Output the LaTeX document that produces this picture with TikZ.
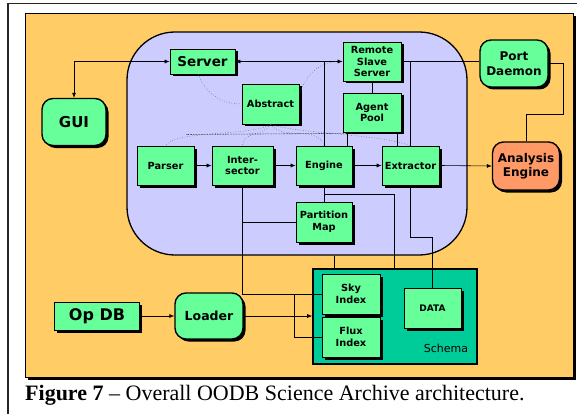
\documentclass[tikz,border=0pt]{standalone}
\usepackage{fontspec}
\setmainfont{Liberation Serif}
\newfontfamily\comic{DejaVu Sans}
\usetikzlibrary{arrows.meta,shadows,calc}
\definecolor{bgorange}{RGB}{255,204,102}
\definecolor{lav}{RGB}{204,204,255}
\definecolor{boxgreen}{RGB}{102,255,153}
\definecolor{anaorange}{RGB}{255,153,102}
\definecolor{schemagreen}{RGB}{0,204,153}
\tikzset{
  shad/.style={drop shadow={shadow xshift=2.5pt,shadow yshift=-2.5pt,opacity=1,fill=black}},
  gbox/.style={draw=black,line width=0.7pt,fill=boxgreen,inner sep=0pt,align=center,
    font=\comic\bfseries\fontsize{9.8}{11.8}\selectfont,shad},
  rbox/.style={draw=black,line width=1.4pt,fill=boxgreen,rounded corners=11pt,inner sep=0pt,
    align=center,font=\comic\bfseries\fontsize{12}{14.5}\selectfont,shad},
  conn/.style={line width=0.6pt,black},
  tip/.style={-{Latex[length=5pt,width=4pt]}},
  dtip/.style={{Latex[length=5pt,width=4pt]}-{Latex[length=5pt,width=4pt]}},
  dotcurve/.style={black!60,line width=0.55pt,dotted},
  blackdot/.style={black,line width=0.6pt,densely dotted},
}
\begin{document}
\begin{tikzpicture}[x=1pt,y=-1pt]
\useasboundingbox (0,0) rectangle (577,414);
% page frame
\draw[line width=1.6pt,black!85] (8,414) -- (8,3.5) -- (577,3.5);
% orange background with shadow
\fill[black] (28,16) rectangle (576,380);
\fill[bgorange] (25,13) rectangle (573,377);
\draw[line width=0.8pt] (25,13) rectangle (573,377);
% system region
\node[draw=black,line width=1.3pt,fill=lav,rounded corners=48pt,minimum width=340pt,minimum height=223pt,inner sep=0pt] (sys) at (297,143.5) {};
% schema
\node[draw=black,line width=1.6pt,fill=schemagreen,minimum width=164pt,minimum height=95pt,inner sep=0pt] (schema) at (395,316.5) {};
\node[font=\comic\fontsize{11}{13}\selectfont] (schemalbl) at (446,348) {Schema};
% nodes
\node[gbox,minimum width=65pt,minimum height=25pt,font=\comic\bfseries\fontsize{13.5}{15}\selectfont] (server) at (202.5,61.5) {Server};
\node[gbox,minimum width=58pt,minimum height=39pt] (rss) at (372,61.5) {Remote\\Slave\\Server};
\node[gbox,minimum width=58pt,minimum height=39pt] (agent) at (372,112.5) {Agent\\Pool};
\node[gbox,minimum width=57pt,minimum height=40pt] (abstract) at (270.5,104) {Abstract};
\node[gbox,minimum width=57pt,minimum height=39pt] (parser) at (165.5,165.5) {Parser};
\node[gbox,minimum width=61pt,minimum height=39pt] (inter) at (242.5,165.5) {Inter-\\sector};
\node[gbox,minimum width=56pt,minimum height=39pt] (engine) at (324,165.5) {Engine};
\node[gbox,minimum width=57pt,minimum height=39pt] (extractor) at (410.5,165.5) {Extractor};
\node[gbox,minimum width=56pt,minimum height=40pt] (partition) at (324,222) {Partition\\Map};
\node[gbox,minimum width=58pt,minimum height=40pt] (sky) at (351,294) {Sky\\Index};
\node[gbox,minimum width=58pt,minimum height=40pt] (flux) at (351,337) {Flux\\Index};
\node[gbox,minimum width=57pt,minimum height=40pt,font=\comic\bfseries\fontsize{9}{11}\selectfont] (data) at (432.5,308) {DATA};
\node[gbox,minimum width=85pt,minimum height=28pt,font=\comic\bfseries\fontsize{16}{18}\selectfont] (opdb) at (97,316) {Op DB};
\node[rbox,minimum width=64pt,minimum height=47pt,font=\comic\bfseries\fontsize{15}{17}\selectfont] (gui) at (74,122) {GUI};
\node[rbox,minimum width=68pt,minimum height=47pt] (port) at (514,63.5) {Port\\Daemon};
\node[rbox,minimum width=67pt,minimum height=48pt,fill=anaorange] (analysis) at (526,166) {Analysis\\Engine};
\node[rbox,minimum width=68pt,minimum height=46pt,font=\comic\bfseries\fontsize{12.5}{14}\selectfont] (loader) at (209,316) {Loader};
% connectors
\draw[conn,dtip] (gui.north) |- (server.west);
\draw[conn,dtip] (server.east) -- (rss.west);
\draw[conn] (engine.north) -- (engine.north |- server.east);
\draw[conn] (rss.east) -- (rss.east -| port.west);
\draw[conn] (extractor.north) -- (extractor.north |- rss.east);
\draw[conn] (rss.south) -- (agent.north);
\draw[conn] (agent.south west) ++(5,0) coordinate (a1) -- (a1 |- engine.north);
\draw[conn] (agent.south east) ++(-4,0) coordinate (a2) -- (a2 |- extractor.north);
\draw[conn,tip] (parser.east) -- (inter.west);
\draw[conn,tip] (inter.east) -- (engine.west);
\draw[conn,tip] (engine.east) -- (extractor.west);
\draw[conn,tip] (extractor.east) -- (analysis.west);
\draw[conn] (engine.south) -- (partition.north);
\draw[conn] (engine.south) ++(0,8.5) coordinate (e1) -| ($(schema.north west)+(82,0)$);
\draw[conn] (inter.south) |- (partition.west);
\draw[conn] (inter.south) |- (sky.west);
\draw[conn] ($(sky.west)+(-27,0)$) |- (flux.west);
\draw[conn] (extractor.south) -- ++(0,52) -| (data.north);
\draw[conn] (sys.south) ++(37,0) coordinate (s1) -- (s1 |- schema.north);
\draw[conn,tip] (loader.east) -- (loader.east -| schema.west);
\draw[conn,tip] (opdb.east) -- (loader.west);
\draw[conn] (port.east) -| ++(15,51) -| (analysis.north);
% dotted relations
\draw[dotcurve] ([xshift=-4pt]server.south) to[out=-70,in=180] (abstract.west);
\draw[dotcurve] ($(abstract.east)+(0,-10)$) to[out=70,in=185] ($(rss.west)+(-6,0)$);
\draw[dotcurve] (abstract.south) .. controls (255,136) and (175,130) .. (parser.north);
\draw[dotcurve] (abstract.south) to[out=-120,in=90] (inter.north);
\draw[dotcurve] (abstract.south) to[out=-50,in=110] (engine.north);
\draw[dotcurve] (abstract.south) .. controls (300,134) and (380,134) .. (extractor.north);
\draw[blackdot] ($(agent.south west)+(3,1)$) -- (186,134.5);
% caption
\node[anchor=base west,font=\fontsize{22}{26}\selectfont,inner sep=0pt] (cap) at (25,400) {\textbf{Figure 7} -- Overall OODB Science Archive architecture.};
\end{tikzpicture}
\end{document}
